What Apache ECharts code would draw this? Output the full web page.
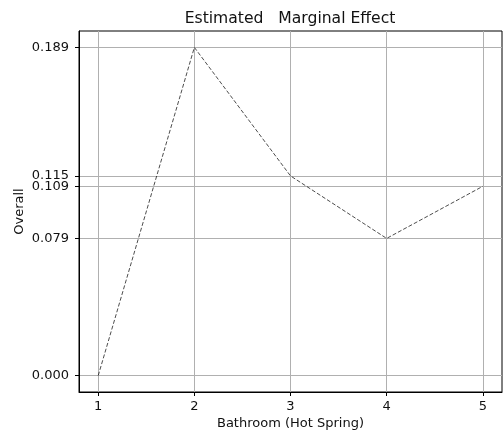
<!DOCTYPE html>
<html><head><meta charset="utf-8">
<script src="https://cdn.jsdelivr.net/npm/echarts@6/dist/echarts.min.js"></script>
<style>html,body{margin:0;padding:0;background:#fff}#c{width:503px;height:440px}</style>
</head><body><div id="c"></div>
<script>
const categories = [1, 2, 3, 4, 5];
const overall = [0.000, 0.189, 0.115, 0.079, 0.109];
const yTicks = [0.000, 0.079, 0.109, 0.115, 0.189];
const xTicks = [1, 2, 3, 4, 5];

const yMin = -0.00945, yMax = 0.19845;
const font = 'DejaVu Sans';
const chart = echarts.init(document.getElementById('c'), null, {renderer: 'canvas'});
chart.setOption({
  animation: false,
  backgroundColor: '#fff',
  title: {
    text: 'Estimated   Marginal Effect', left: 285, top: 6, textAlign: 'center',
    textStyle: {fontFamily: font, fontSize: 15.6, fontWeight: 'normal', color: '#111'}
  },
  grid: {left: 79, right: 1, top: 31, bottom: 48, show: true, borderColor: '#000', borderWidth: 1, backgroundColor: 'transparent'},
  xAxis: {
    type: 'value', min: 0.8, max: 5.2,
    name: 'Bathroom (Hot Spring)', nameLocation: 'middle', nameGap: 25, nameMoveOverlap: false,
    nameTextStyle: {fontFamily: font, fontSize: 13, color: '#111'},
    axisLine: {show: true, onZero: false, lineStyle: {color: '#000', width: 1}},
    axisTick: {show: true, length: 4, customValues: xTicks, lineStyle: {color: '#000'}},
    axisLabel: {customValues: xTicks, margin: 8, fontFamily: font, fontSize: 13, color: '#111', formatter: v => String(v)},
    splitLine: {show: true, lineStyle: {color: '#b0b0b0', width: 1}}
  },
  yAxis: {
    type: 'value', min: yMin, max: yMax,
    name: 'Overall', nameLocation: 'middle', nameGap: 53, nameRotate: 90, nameMoveOverlap: false,
    nameTextStyle: {fontFamily: font, fontSize: 13, color: '#111'},
    axisLine: {show: true, onZero: false, lineStyle: {color: '#000', width: 1}},
    axisTick: {show: true, length: 4, customValues: yTicks, lineStyle: {color: '#000'}},
    axisLabel: {customValues: yTicks, margin: 10, fontFamily: font, fontSize: 13, color: '#111', formatter: v => v.toFixed(3)},
    splitLine: {show: true, lineStyle: {color: '#b0b0b0', width: 1}}
  },
  series: [{
    type: 'line',
    data: categories.map((c, i) => [c, overall[i]]),
    showSymbol: false, symbol: 'none',
    lineStyle: {color: '#000', width: 0.7, type: [4, 2]}
  }]
});
</script></body></html>
